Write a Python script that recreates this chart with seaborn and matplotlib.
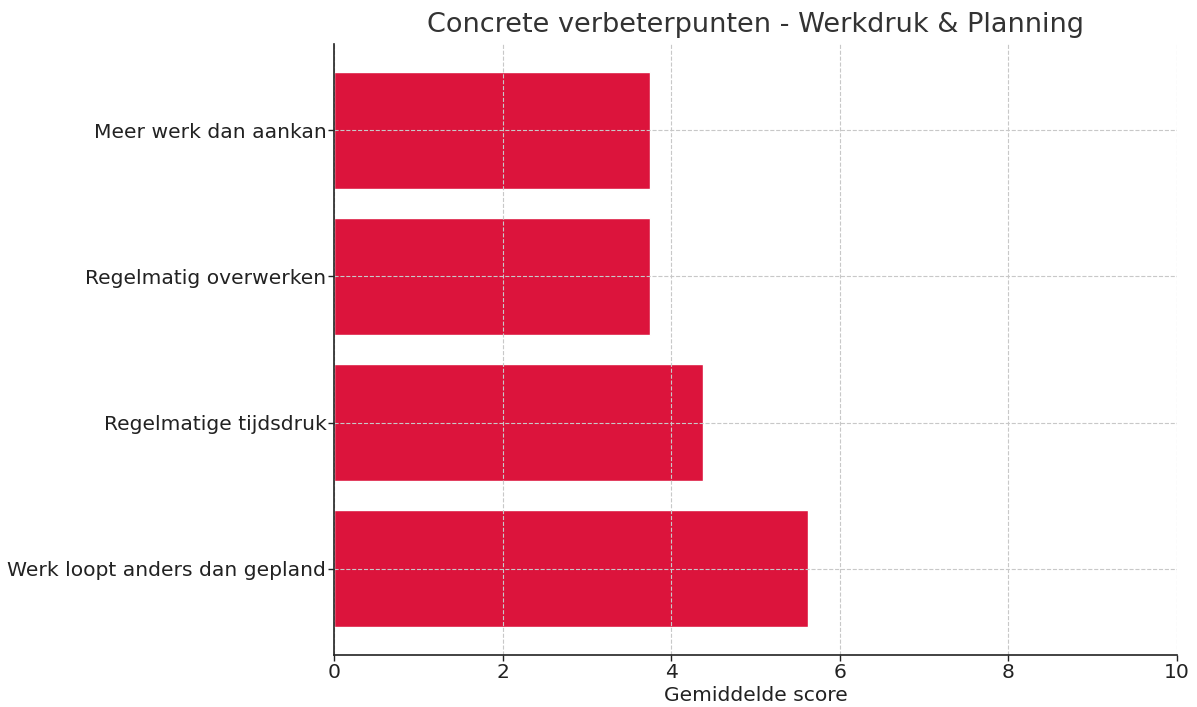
import matplotlib
matplotlib.use("Agg")
import matplotlib.pyplot as plt
import seaborn as sns
import pandas as pd

categories = ["Meer werk dan aankan", "Regelmatig overwerken",
              "Regelmatige tijdsdruk", "Werk loopt anders dan gepland"]
scores = [3.75, 3.75, 4.375, 5.625]
xticks = [0, 2, 4, 6, 8, 10]

sns.set_style("white")
plt.rcParams['font.family'] = ['DejaVu Sans']

df = pd.DataFrame({"cat": categories, "score": scores})

fig = plt.figure(figsize=(11.97, 7.07), dpi=100)
ax = fig.add_axes([334/1197, 1 - 655/707, (1177-334)/1197, (655-44)/707])
sns.barplot(data=df, x="score", y="cat", orient="h", color="#DC143C",
            saturation=1, width=0.8, ax=ax)
ax.set_xlim(0, 10)
ax.set_ylim(3.59, -0.59)
ax.set_xticks(xticks)
ax.set_xticklabels([str(t) for t in xticks])
for b in ax.patches:
    b.set_zorder(1)
ax.grid(True, linestyle="--", color="#c8c8c8", linewidth=0.8, zorder=3)
ax.set_axisbelow(False)
for s in ["top", "right"]:
    ax.spines[s].set_visible(False)
for s in ["left", "bottom"]:
    ax.spines[s].set_color("#222222")
    ax.spines[s].set_linewidth(1.2)
    ax.spines[s].set_zorder(5)
ax.tick_params(axis="both", labelsize=14.6, colors="#222222", length=4, width=1,
               pad=1.5, left=True, bottom=True)
ax.set_xlabel("Gemiddelde score", fontsize=14.6, color="#222222", labelpad=3)
ax.set_ylabel("")
ax.set_title("Concrete verbeterpunten - Werkdruk & Planning", fontsize=19.5,
             color="#333333", pad=9)
fig.savefig("out.png", dpi=100)
